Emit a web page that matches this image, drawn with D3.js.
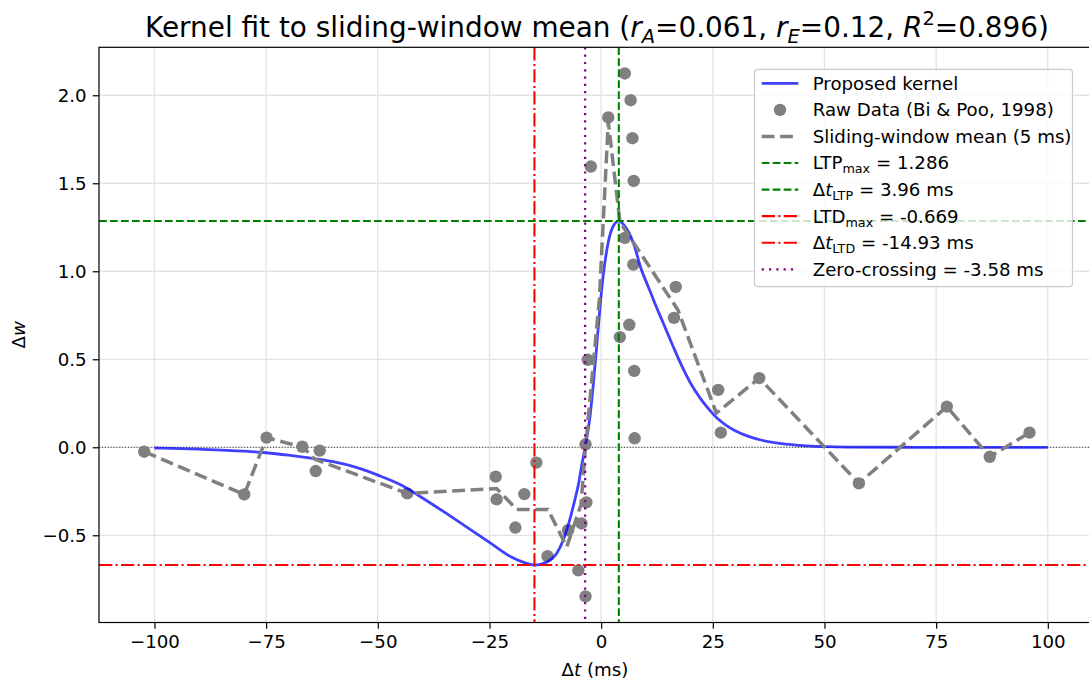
<!DOCTYPE html>
<html>
<head>
<meta charset="UTF-8">
<title>Kernel fit</title>
<style>
  body { margin: 0; background: #fff; }
  svg { display: block; font-family: "DejaVu Sans", sans-serif; }
</style>
</head>
<body>
<div id="chart"></div>
<script src="https://cdnjs.cloudflare.com/ajax/libs/d3/7.8.5/d3.min.js"></script>
<script>
// raw points (Bi & Poo, 1998)
const rawX = [-102.3, -79.9, -74.9, -66.9, -63.9, -63.0, -43.4, -23.6, -23.4, -19.2, -17.2, -14.5,
  -12.0, -7.4, -5.1, -3.5, -4.4, -3.3, -3.5, -3.0, -2.3, 1.6, 4.2, 5.3, 5.3, 6.3, 6.6, 7.0,
  7.2, 7.3, 7.4, 7.5, 16.3, 16.7, 26.2, 26.8, 35.4, 57.7, 77.4, 87.0, 95.9];
const rawY = [-0.025, -0.268, 0.055, 0.003, -0.135, -0.019, -0.262, -0.167, -0.296, -0.456, -0.266, -0.087,
  -0.619, -0.471, -0.699, -0.847, -0.433, -0.313, 0.017, 0.497, 1.595, 1.874, 0.626, 2.124, 1.19, 0.696, 1.972, 1.756,
  1.038, 1.513, 0.434, 0.051, 0.735, 0.911, 0.326, 0.083, 0.393, -0.205, 0.231, -0.054, 0.083];

// sliding-window mean (5 ms)
const meanX = [-102.3, -79.9, -74.9, -66.7, -64.1, -43.4, -23.4, -18.9, -11.9, -7.7, -4.5, -3.5,
  -0.4, 1.6, 4.2, 17.2, 25.8, 35.4, 57.7, 77.4, 87.0, 95.9];
const meanY = [-0.025, -0.268, 0.055, 0.0, -0.068, -0.262, -0.234, -0.353, -0.353, -0.566, -0.325, 0.0,
  0.84, 1.85, 1.28, 0.78, 0.194, 0.393, -0.205, 0.231, -0.054, 0.083];

// proposed kernel, sampled along the blue curve
const kernelX = [-100, -90, -80, -75, -70, -65, -60, -55, -50, -45, -40, -35, -30, -25, -20, -17,
  -14.93, -12, -10, -8.5, -7, -6, -5, -4.4, -3.58, -2.5, -1.8, -1.0, -0.3, 0.45, 1.57, 2.7, 3.96,
  5.3, 7.2, 9.0, 10.5, 12, 14, 16, 18, 20, 22, 24, 26, 28, 30, 33, 36, 40, 46, 55, 70, 85, 100];
const kernelY = [-0.004, -0.011, -0.022, -0.031, -0.045, -0.062, -0.082, -0.113, -0.158, -0.212, -0.288, -0.37, -0.455, -0.54, -0.625, -0.657,
  -0.669, -0.65, -0.605, -0.528, -0.41, -0.31, -0.2, -0.11, 0, 0.174, 0.345, 0.573, 0.782, 0.972, 1.162, 1.256, 1.286,
  1.256, 1.162, 1.01, 0.915, 0.82, 0.70, 0.58, 0.465, 0.365, 0.285, 0.22, 0.165, 0.125, 0.094, 0.062, 0.04, 0.022, 0.008, 0.001, 0, 0, 0];

const xTicks = [-100, -75, -50, -25, 0, 25, 50, 75, 100];
const yTicks = [-0.5, 0.0, 0.5, 1.0, 1.5, 2.0];

const ltpMax = 1.286, ltpT = 3.96, ltdMax = -0.669, ltdT = -14.93, zeroCross = -3.58;

const W = 1089, H = 681;
const axL = 99, axT = 47.3, axR = 1093, axB = 622.5;
const fs = 18.2;

const svg = d3.select('#chart').append('svg')
  .attr('width', W).attr('height', H)
  .style('background', '#fff');

// 5% margins like matplotlib autoscale
const pad = (lo, hi) => { const s = hi - lo; return [lo - 0.05 * s, hi + 0.05 * s]; };
const allX = rawX.concat(kernelX, meanX), allY = rawY.concat(kernelY, meanY);
const x = d3.scaleLinear().domain(pad(d3.min(allX), d3.max(allX))).range([axL, axR]);
const y = d3.scaleLinear().domain(pad(d3.min(allY), d3.max(allY))).range([axB, axT]);

svg.append('defs').append('clipPath').attr('id', 'clip')
  .append('rect').attr('x', axL).attr('y', axT).attr('width', axR - axL).attr('height', axB - axT);

// grid
const grid = svg.append('g').attr('stroke', '#e3e3e3').attr('stroke-width', 1.3);
grid.selectAll('.gx').data(xTicks).enter().append('line')
  .attr('x1', d => x(d)).attr('x2', d => x(d)).attr('y1', axT).attr('y2', axB);
grid.selectAll('.gy').data(yTicks).enter().append('line')
  .attr('y1', d => y(d)).attr('y2', d => y(d)).attr('x1', axL).attr('x2', axR);

const plot = svg.append('g').attr('clip-path', 'url(#clip)');

// zero line
plot.append('line')
  .attr('x1', axL).attr('x2', axR).attr('y1', y(0)).attr('y2', y(0))
  .attr('stroke', '#000').attr('stroke-width', 0.8).attr('stroke-dasharray', '1.1,1.8');

// raw scatter
plot.selectAll('circle').data(rawX).enter().append('circle')
  .attr('cx', d => x(d)).attr('cy', (d, i) => y(rawY[i])).attr('r', 6.2)
  .attr('fill', '#808080');

// kernel
const kLine = d3.line().x(d => x(d[0])).y(d => y(d[1])).curve(d3.curveMonotoneX);
plot.append('path').datum(kernelX.map((d, i) => [d, kernelY[i]]))
  .attr('d', kLine).attr('fill', 'none')
  .attr('stroke', 'rgba(0,0,255,0.75)').attr('stroke-width', 2.8);

// sliding-window mean
const mLine = d3.line().x(d => x(d[0])).y(d => y(d[1]));
plot.append('path').datum(meanX.map((d, i) => [d, meanY[i]]))
  .attr('d', mLine).attr('fill', 'none')
  .attr('stroke', '#808080').attr('stroke-width', 3.5).attr('stroke-dasharray', '12.8,5.6');

// reference lines
const greenDash = '7.7,3.3', redDashDot = '13.3,3.3,2.1,3.3', purpleDot = '2.2,5.1';
plot.append('line').attr('x1', axL).attr('x2', axR).attr('y1', y(ltpMax)).attr('y2', y(ltpMax))
  .attr('stroke', 'green').attr('stroke-width', 2.1).attr('stroke-dasharray', greenDash);
plot.append('line').attr('x1', x(ltpT)).attr('x2', x(ltpT)).attr('y1', axT).attr('y2', axB)
  .attr('stroke', 'green').attr('stroke-width', 2.1).attr('stroke-dasharray', greenDash);
plot.append('line').attr('x1', axL).attr('x2', axR).attr('y1', y(ltdMax)).attr('y2', y(ltdMax))
  .attr('stroke', 'red').attr('stroke-width', 2.1).attr('stroke-dasharray', redDashDot);
plot.append('line').attr('x1', x(ltdT)).attr('x2', x(ltdT)).attr('y1', axT).attr('y2', axB)
  .attr('stroke', 'red').attr('stroke-width', 2.1).attr('stroke-dasharray', redDashDot);
plot.append('line').attr('x1', x(zeroCross)).attr('x2', x(zeroCross)).attr('y1', axT).attr('y2', axB)
  .attr('stroke', 'purple').attr('stroke-width', 2.2).attr('stroke-dasharray', purpleDot);

// axes
const xAxis = d3.axisBottom(x).tickValues(xTicks).tickSize(6.3).tickPadding(6);
const yAxis = d3.axisLeft(y).tickValues(yTicks).tickFormat(d3.format('.1f')).tickSize(6.3).tickPadding(6);
const gx = svg.append('g').attr('transform', `translate(0,${axB})`).call(xAxis);
const gy = svg.append('g').attr('transform', `translate(${axL},0)`).call(yAxis);
[gx, gy].forEach(g => {
  g.select('.domain').remove();
  g.selectAll('line').attr('stroke', '#000').attr('stroke-width', 1.2);
  g.selectAll('text').attr('font-size', fs).attr('fill', '#000').attr('font-family', '"DejaVu Sans", sans-serif');
});
svg.append('rect').attr('x', axL).attr('y', axT).attr('width', axR - axL).attr('height', axB - axT)
  .attr('fill', 'none').attr('stroke', '#000').attr('stroke-width', 1.2);

// rich text helper: parts with optional italic / sub / sup
function rich(sel, parts, size) {
  let shift = 0;
  parts.forEach(p => {
    const t = sel.append('tspan').text(p.t);
    if (p.i) t.attr('font-style', 'italic');
    let target = 0;
    if (p.sub) { target = size * 0.22; t.attr('font-size', size * 0.7); }
    if (p.sup) { target = -size * 0.42; t.attr('font-size', size * 0.7); }
    if (target !== shift) { t.attr('dy', target - shift); shift = target; }
  });
}

// title
const tfs = 27.9;
const title = svg.append('text').attr('x', (axL + axR) / 2 + 1).attr('y', 37)
  .attr('text-anchor', 'middle').attr('font-size', tfs).attr('fill', '#000');
rich(title, [
  { t: 'Kernel fit to sliding-window mean (' }, { t: 'r', i: true }, { t: 'A', i: true, sub: true },
  { t: '=0.061, ' }, { t: 'r', i: true }, { t: 'E', i: true, sub: true },
  { t: '=0.12, ' }, { t: 'R', i: true }, { t: '2', sup: true }, { t: '=0.896)' }
], tfs);

// axis labels
const xl = svg.append('text').attr('x', (axL + axR) / 2 - 1).attr('y', 676)
  .attr('text-anchor', 'middle').attr('font-size', fs);
rich(xl, [{ t: 'Δ' }, { t: 't', i: true }, { t: ' (ms)' }], fs);
const yl = svg.append('text').attr('transform', `translate(25,${(axT + axB) / 2}) rotate(-90)`)
  .attr('text-anchor', 'middle').attr('font-size', fs);
rich(yl, [{ t: 'Δ' }, { t: 'w', i: true }], fs);

// legend
const lg = svg.append('g');
lg.append('rect').attr('x', 754.5).attr('y', 69.3).attr('width', 318).attr('height', 217.4)
  .attr('rx', 3.5).attr('fill', 'rgba(255,255,255,0.8)').attr('stroke', '#cccccc').attr('stroke-width', 1.2);
const rowY0 = 83.3, rowDy = 26.57, hx0 = 761.7, hx1 = 798.3, tx = 812.7;
const legendItems = [
  { kind: 'kernel', parts: [{ t: 'Proposed kernel' }] },
  { kind: 'raw', parts: [{ t: 'Raw Data (Bi & Poo, 1998)' }] },
  { kind: 'mean', parts: [{ t: 'Sliding-window mean (5 ms)' }] },
  { kind: 'green', parts: [{ t: 'LTP' }, { t: 'max', sub: true }, { t: ' = ' + ltpMax }] },
  { kind: 'green', parts: [{ t: 'Δ' }, { t: 't', i: true }, { t: 'LTP', sub: true }, { t: ' = ' + ltpT + ' ms' }] },
  { kind: 'red', parts: [{ t: 'LTD' }, { t: 'max', sub: true }, { t: ' = ' + ltdMax }] },
  { kind: 'red', parts: [{ t: 'Δ' }, { t: 't', i: true }, { t: 'LTD', sub: true }, { t: ' = ' + ltdT + ' ms' }] },
  { kind: 'purple', parts: [{ t: 'Zero-crossing = ' + zeroCross + ' ms' }] }
];
const handleStyle = {
  kernel: ['rgba(0,0,255,0.75)', 2.8, null],
  mean: ['#808080', 3.5, '12.8,5.6'],
  green: ['green', 2.1, greenDash],
  red: ['red', 2.1, redDashDot],
  purple: ['purple', 2.2, purpleDot]
};
legendItems.forEach((it, i) => {
  const cy = rowY0 + i * rowDy;
  if (it.kind === 'raw') {
    lg.append('circle').attr('cx', (hx0 + hx1) / 2).attr('cy', cy).attr('r', 6.2).attr('fill', '#808080');
  } else {
    const s = handleStyle[it.kind];
    lg.append('line').attr('x1', hx0).attr('x2', hx1).attr('y1', cy).attr('y2', cy)
      .attr('stroke', s[0]).attr('stroke-width', s[1]).attr('stroke-dasharray', s[2]);
  }
  const t = lg.append('text').attr('x', tx).attr('y', cy + 6.4).attr('font-size', fs).attr('fill', '#000');
  rich(t, it.parts, fs);
});
</script>
</body>
</html>
